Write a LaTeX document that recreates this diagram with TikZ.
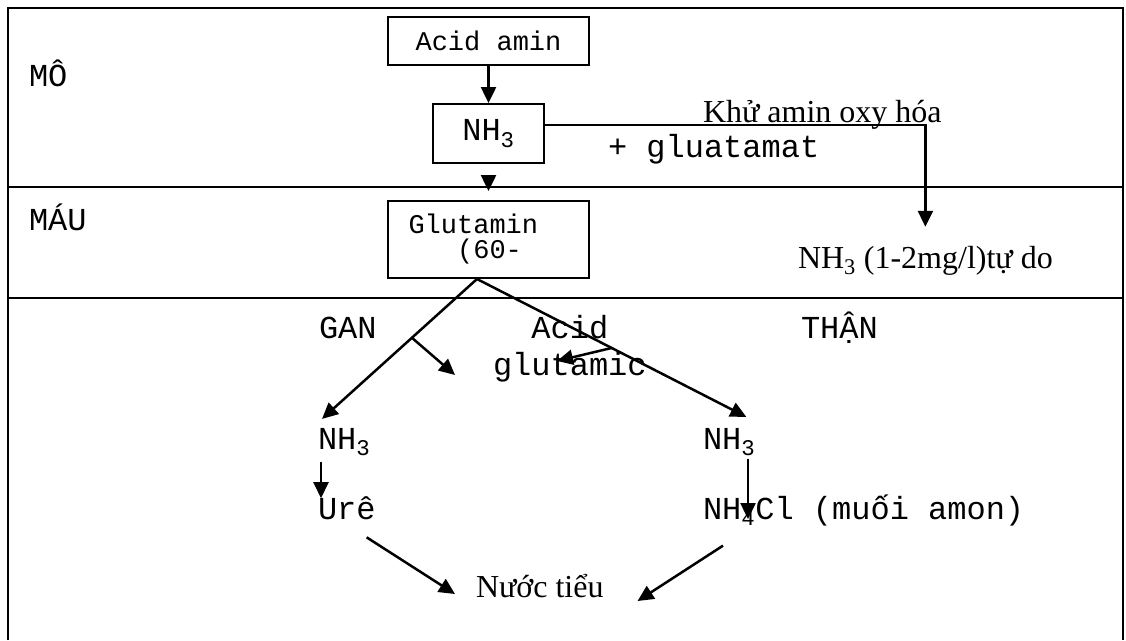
\documentclass[tikz,border=0pt]{standalone}
\usepackage{fontspec}
\setmainfont{Liberation Serif}
\setmonofont{Liberation Mono}
\usepackage{tikz}
\usetikzlibrary{arrows.meta,positioning,calc}

\begin{document}
\begin{tikzpicture}[
		x=1pt, y=-1pt,
		line width=2pt,
		box/.style={draw, line width=2pt, font=\ttfamily\fontsize{27}{25}\selectfont, inner sep=0pt},
		mono/.style={font=\ttfamily\fontsize{32}{38}\selectfont, inner sep=0pt, anchor=base west},
		serif/.style={font=\fontsize{32}{38}\selectfont, inner sep=0pt, anchor=base west},
		arr/.style={line width=2.5pt, -{Triangle[length=16pt,width=15pt]}}
	]
	\useasboundingbox (0,0) rectangle (1126,640);

	% khung va cac vung
	\draw (8,640) -- (8,8) -- (1123,8) -- (1123,640);
	\draw (8,187) -- (1123,187);
	\draw (8,298) -- (1123,298);

	\node[mono] (mo) at (28,86) {MÔ};
	\node[mono] (mau) at (28,230) {MÁU};

	\node[box, minimum width=201pt, minimum height=48pt] (acid) at (488.5,41) {Acid amin};
	\node[box, minimum width=111pt, minimum height=59pt, font=\ttfamily\fontsize{32}{38}\selectfont] (nh3) at (488.5,133.5) {NH\textsubscript{3}};
	\node[box, minimum height=77pt, text width=160pt, inner xsep=20.5pt, align=left] (glut) at (488.5,239.5) {Glutamin\\\phantom{Glu}(60-};

	\node[serif] (khu) at (702,122) {Khử amin oxy hóa};
	\node[mono] (glua) at (607,157) {+ gluatamat};
	\node[serif] (free) at (797,268) {NH\textsubscript{3} (1-2mg/l)tự do};

	\node[mono] (gan) at (318,338) {GAN};
	\node[mono] (glu) at (492,375) {glutamic};
	\node[mono, anchor=base] (acidg) at ([yshift=37pt]glu.base) {Acid};
	\node[mono] (than) at (800,338) {THẬN};

	\node[mono] (nhl) at (317,449) {NH\textsubscript{3}};
	\node[mono] (ure) at (317,519) {Urê};
	\node[mono] (nhr) at (702,449) {NH\textsubscript{3}};
	\node[mono] (nh4) at (702,519) {NH\textsubscript{4}Cl (muối amon)};
	\node[serif] (nuoc) at (475,597) {Nước tiểu};

	% mui ten
	\draw[arr] (acid) -- (nh3);
	\draw[arr, shorten <=12pt, shorten >=9pt] (nh3) -- (glut);
	\draw[arr] ([yshift=8.5pt]nh3.east) -| ([yshift=18pt]free.north);

	\coordinate (apex) at ([xshift=-11.5pt]glut.south);
	\draw[arr] (apex) -- coordinate[pos=0.42] (gb) ([shift={(5pt,8pt)}]nhl.north west);
	\draw[arr] (apex) -- coordinate[pos=0.5] (tb) ([shift={(-10pt,10pt)}]nhr.north east);
	\draw[arr] (gb) -- ([xshift=-37pt]glu.base west);
	\draw[arr] (tb) -- ([xshift=65pt, yshift=14pt]glu.base west);

	\draw[arr] ([xshift=4pt, yshift=-5pt]nhl.south west) -- ([xshift=4pt, yshift=-3pt]ure.north west);
	\draw[arr] ([xshift=46pt, yshift=-2pt]nhr.south west) -- ([xshift=46pt]nh4.base west);
	\draw[arr] ([shift={(-10pt,-17pt)}]ure.south east) -- ([shift={(-20pt,3pt)}]nuoc.base west);
	\draw[arr] ([shift={(21pt,-19pt)}]nh4.south west) -- ([shift={(33pt,-4pt)}]nuoc.base east);
\end{tikzpicture}
\end{document}
